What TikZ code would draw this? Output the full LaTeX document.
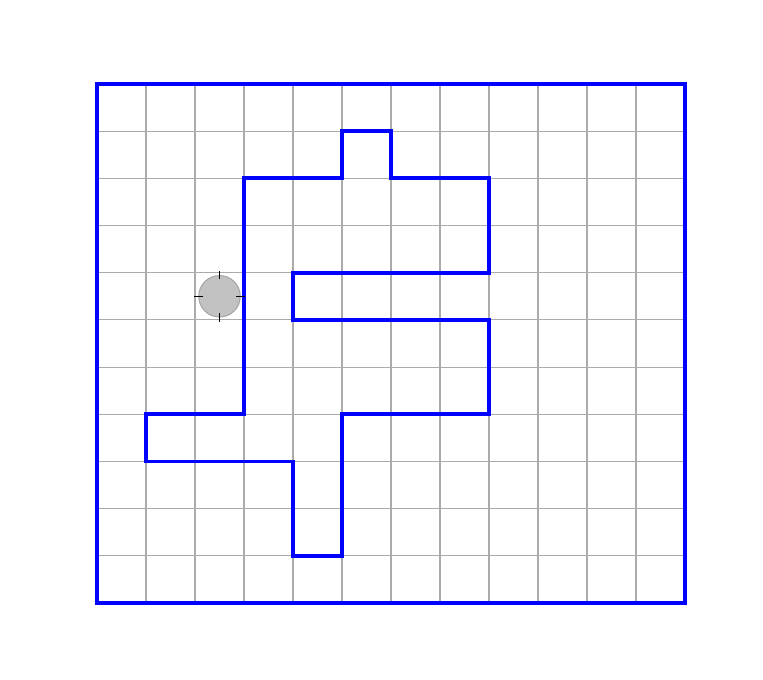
\documentclass[tikz,border=0pt]{standalone}
\begin{document}
\begin{tikzpicture}[x=0.98cm,y=0.9436cm,
  gridline/.style={draw=black!33,line width=0.6pt},
  wall/.style={draw=blue,line width=2.2pt},
  robot/.style={circle,draw=black!35,fill=black!40,fill opacity=0.6,minimum size=0.83cm,inner sep=0pt,line width=0.6pt},
  tick/.style={draw=black,line width=0.8pt}]
\useasboundingbox (-1.94cm,-1.54cm) rectangle (13.32cm,12.06cm);
\foreach \i in {1,...,11} \draw[gridline] (\i,0) -- (\i,11);
\foreach \j in {1,...,10} \draw[gridline] (0,\j) -- (12,\j);
\draw[wall] (0,0) rectangle (12,11);
\draw[wall,line join=miter] (5,10) -- (6,10) -- (6,9) -- (8,9) -- (8,7) -- (4,7) -- (4,6) -- (8,6) -- (8,4) -- (5,4) -- (5,1) -- (4,1) -- (4,3) -- (1,3) -- (1,4) -- (3,4) -- (3,9) -- (5,9) -- cycle;
\node[robot] (r) at (2.5,6.5) {};
\draw[tick] ([xshift=-2.5pt]r.west) -- ([xshift=2.5pt]r.west);
\draw[tick] ([xshift=-2.5pt]r.east) -- ([xshift=2.5pt]r.east);
\draw[tick] ([yshift=-2.5pt]r.north) -- ([yshift=2.5pt]r.north);
\draw[tick] ([yshift=-2.5pt]r.south) -- ([yshift=2.5pt]r.south);
\end{tikzpicture}
\end{document}
